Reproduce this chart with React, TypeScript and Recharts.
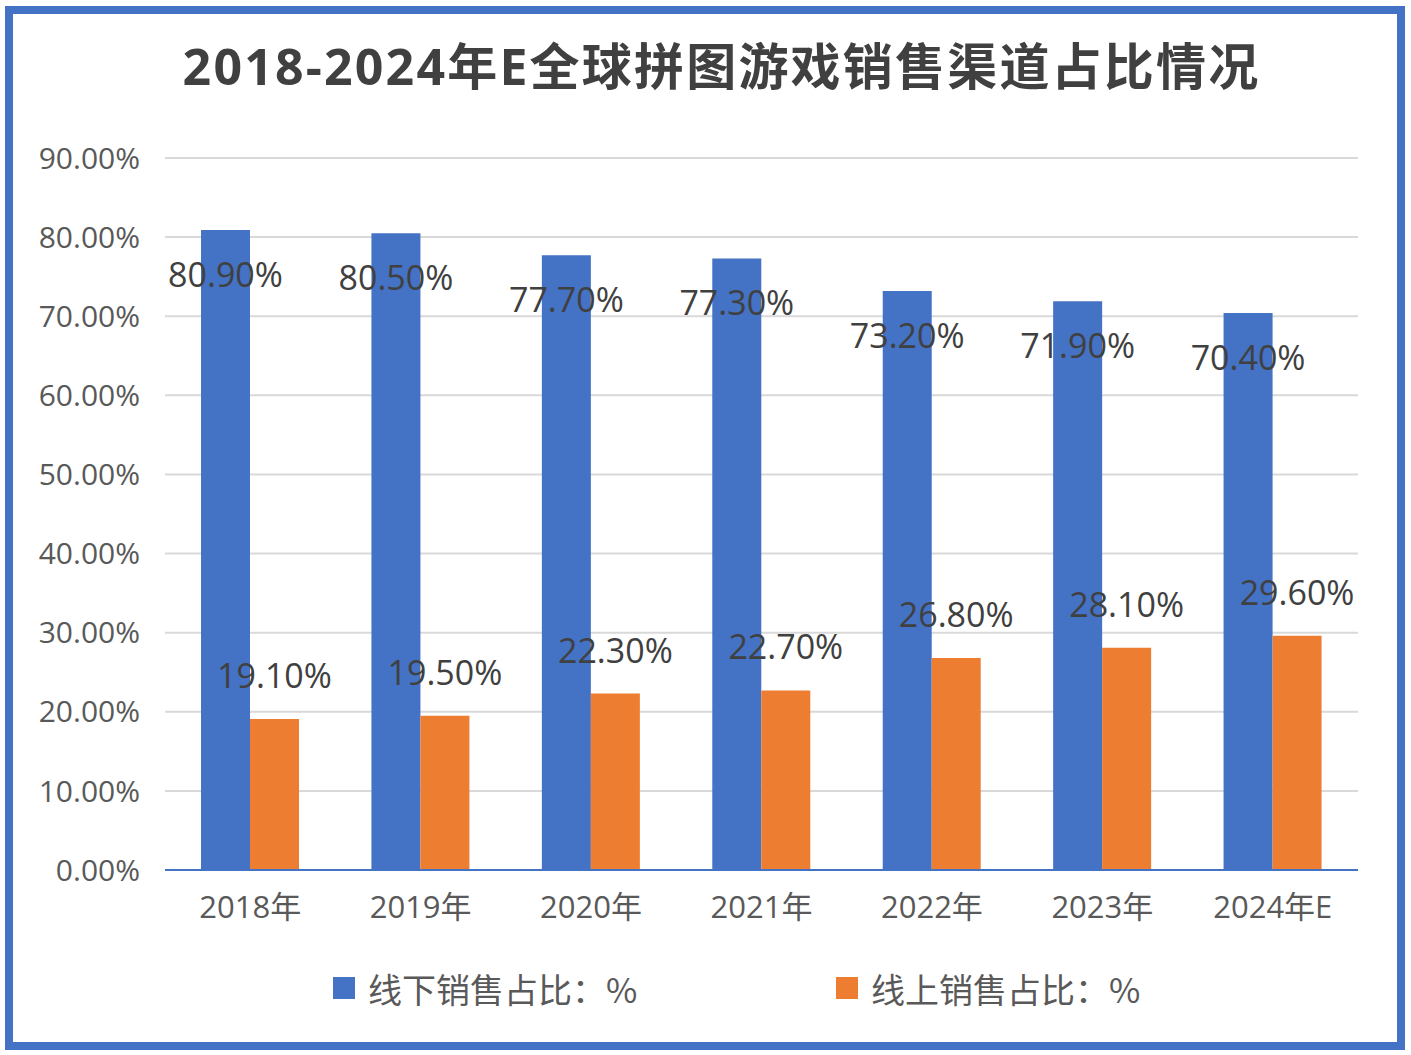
import React from "react";
import { BarChart, Bar, XAxis, YAxis, CartesianGrid, Legend, LabelList } from "recharts";

const categories = ["2018年", "2019年", "2020年", "2021年", "2022年", "2023年", "2024年E"];
const offlineShare = [80.9, 80.5, 77.7, 77.3, 73.2, 71.9, 70.4];
const onlineShare = [19.1, 19.5, 22.3, 22.7, 26.8, 28.1, 29.6];
const yTicks = [0, 10, 20, 30, 40, 50, 60, 70, 80, 90];
const seriesNames = ["线下销售占比：%", "线上销售占比：%"];
const title = "2018-2024年E全球拼图游戏销售渠道占比情况";

const BLUE = "#4472C4";
const ORANGE = "#ED7D31";
const FONT = "'Open Sans', 'Noto Sans CJK SC', sans-serif";

const data = categories.map((c, i) => ({
  name: c,
  offline: offlineShare[i],
  online: onlineShare[i],
}));

const fmt = (v: number) => v.toFixed(2) + "%";

const makeLabel = (dy: number) => (props: any) => {
  const { x, y, width, value } = props;
  return (
    <text
      x={Number(x) + Number(width) / 2}
      y={Number(y) + dy}
      textAnchor="middle"
      dominantBaseline="central"
      fill="#404040"
      fontSize={34}
      fontFamily={FONT}
    >
      {fmt(Number(value))}
    </text>
  );
};

const legendLeft = [333, 836];

const renderLegend = (props: any) => {
  const { payload } = props;
  return (
    <div style={{ position: "relative", height: 40 }}>
      {payload.map((p: any, i: number) => {
        const idx = Math.max(0, seriesNames.indexOf(p.value));
        return (
          <div
            key={i}
            style={{
              position: "absolute",
              left: legendLeft[idx],
              top: 0,
              display: "flex",
              alignItems: "center",
              height: 40,
            }}
          >
            <div style={{ width: 22, height: 22, background: p.color, marginRight: 13 }} />
            <span style={{ fontSize: 34, color: "#595959", fontFamily: "'Noto Sans CJK SC', sans-serif", whiteSpace: "nowrap" }}>
              {p.value}
            </span>
          </div>
        );
      })}
    </div>
  );
};

export default function App() {
  return (
    <div style={{ position: "absolute", left: 0, top: 0, width: 1411, height: 1055, background: "#fff", fontFamily: FONT }}>
      <div
        style={{
          position: "absolute",
          left: 5,
          top: 6,
          width: 1400,
          height: 1044,
          boxSizing: "border-box",
          border: `8px solid ${BLUE}`,
        }}
      />
      <div
        style={{
          position: "absolute",
          left: 0,
          width: 1443,
          top: 33,
          textAlign: "center",
          fontSize: 50,
          fontWeight: 700,
          color: "#404040",
          fontFamily: FONT,
          lineHeight: "66px",
          letterSpacing: 2.2,
          whiteSpace: "nowrap",
        }}
      >
        {title}
      </div>
      <div style={{ position: "absolute", left: 0, top: 0 }}>
        <BarChart
          width={1411}
          height={1055}
          data={data}
          margin={{ top: 158, right: 53, bottom: 85, left: 0 }}
          barGap={0}
          barSize={49}
        >
          <CartesianGrid vertical={false} stroke="#D9D9D9" strokeWidth={2} />
          <XAxis
            dataKey="name"
            axisLine={{ stroke: BLUE, strokeWidth: 2 }}
            tickLine={false}
            tickSize={0}
            tickMargin={26}
            height={60}
            tick={{ fontSize: 31, fill: "#595959", fontFamily: FONT }}
            interval={0}
          />
          <YAxis
            width={165}
            domain={[0, 90]}
            ticks={yTicks}
            tickFormatter={fmt}
            axisLine={false}
            tickLine={false}
            tickSize={0}
            tickMargin={25}
            tick={{ fontSize: 30, fill: "#595959", fontFamily: FONT }}
            interval={0}
          />
          <Legend
            verticalAlign="bottom"
            content={renderLegend}
            wrapperStyle={{ position: "absolute", left: 0, top: 968, width: 1411, height: 40 }}
          />
          <Bar dataKey="offline" name={seriesNames[0]} fill={BLUE} isAnimationActive={false}>
            <LabelList dataKey="offline" content={makeLabel(44)} />
          </Bar>
          <Bar dataKey="online" name={seriesNames[1]} fill={ORANGE} isAnimationActive={false}>
            <LabelList dataKey="online" content={makeLabel(-44)} />
          </Bar>
        </BarChart>
      </div>
    </div>
  );
}
